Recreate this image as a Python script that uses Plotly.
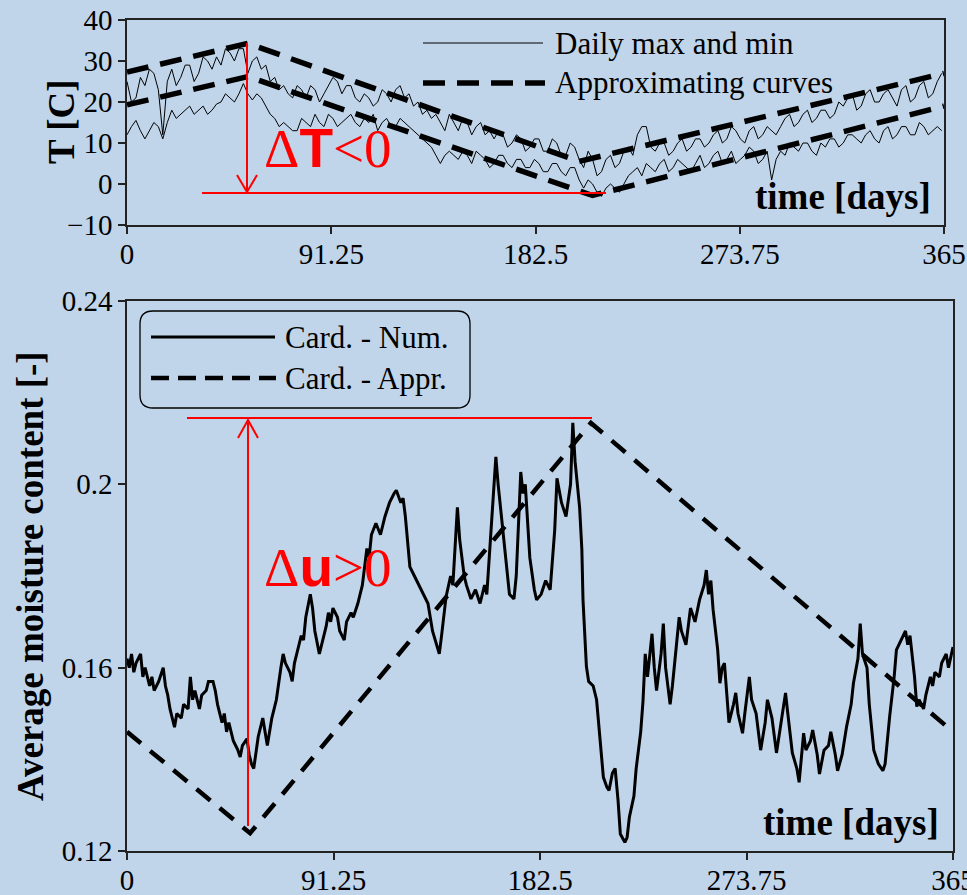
import plotly.graph_objects as go

W, H = 967, 895
BG = "rgb(192,213,234)"
SERIF = "Liberation Serif, Times New Roman, serif"
AX = "#222222"

# ---------------- data ----------------
tick_vals = [0, 91.25, 182.5, 273.75, 365]
tick_text = ["0", "91.25", "182.5", "273.75", "365"]

t_days = list(range(0, 365, 2))
t_max = [25, 20, 21, 26, 24, 28, 27, 23, 12, 25, 28, 24, 26, 29, 29, 25, 27, 31, 30, 28,
         31, 29, 33, 32, 30, 33, 33, 27, 30, 31, 28, 29, 25, 26, 23, 24, 22, 21, 24, 23,
         21, 24, 23, 20, 22, 24, 26, 25, 22, 24, 24, 21, 20, 22, 21, 19, 20, 23, 22, 20,
         23, 24, 21, 22, 19, 20, 17, 18, 16, 17, 15, 13, 17, 15, 13, 16, 15, 12, 14, 15,
         12, 13, 11, 13, 12, 9, 10, 12, 11, 8, 9, 11, 11, 8, 8, 11, 10, 7, 7, 10,
         9, 6, 4, 8, 6, 2, 3, 6, 7, 4, 5, 8, 9, 7, 12, 14, 14, 9, 8, 10,
         10, 7, 8, 10, 11, 8, 9, 11, 11, 9, 10, 12, 13, 10, 11, 14, 13, 11, 10, 13,
         14, 11, 12, 14, 13, 12, 14, 16, 17, 14, 15, 17, 18, 15, 16, 18, 18, 16, 17, 20,
         19, 21, 22, 18, 19, 22, 23, 20, 20, 22, 23, 21, 19, 23, 24, 20, 21, 24, 25, 21,
         22, 25, 27]
t_min = [12, 14, 15.5, 13, 11, 13, 15, 14, 11, 15, 18, 16, 17, 18, 19, 17, 18, 19, 17, 18,
         19.5, 20, 22, 21, 20, 22, 24.5, 22, 20.5, 22, 21, 19, 17, 16, 14, 15, 14, 13, 13, 16,
         15, 14, 17, 15, 14, 17, 16, 14, 15, 16, 17, 15, 14, 16, 15, 17, 13, 15, 16, 14,
         14, 16, 15, 14, 13, 12, 11, 10, 9, 7, 5, 7, 8, 7, 6, 8, 7, 5, 8, 7,
         6, 4, 5, 7, 7, 5, 4, 6, 6, 4, 4, 6, 5, 3, 3, 5, 5, 3, 2, 4,
         4, 1, -1, 1, 0, -2, -3, -1, 0, -1, -2, 0, 2, 3, 4, 2, 5, 4, 3, 5,
         6, 3, 4, 6, 5, 4, 3, 5, 7, 4, 5, 7, 8, 5, 6, 8, 5, 6, 7, 9,
         8, 5, 6, 8, 1, 6, 8, 7, 10, 9, 8, 10, 10, 8, 7, 10, 9, 11, 11, 9,
         10, 12, 12, 11, 10, 12, 13, 11, 10, 13, 14, 11, 12, 14, 14, 12, 12, 15, 14, 12,
         13, 14, 13]

appr_up_days = [0, 54, 202, 365]
appr_up_vals = [27.3, 34.3, 5.5, 27.0]
appr_lo_days = [0, 54, 208, 365]
appr_lo_vals = [19.3, 26.2, -2.8, 19.0]

num_days = [0, 1, 2, 3, 4, 6, 7, 8, 10, 11, 12, 14, 16, 17, 18, 19, 21, 22, 24, 25,
            27, 28, 29, 30, 32, 33, 35, 36, 38, 39, 40, 42, 43, 44, 45, 47, 49, 50, 51, 53,
            54, 55, 56, 57, 58, 60, 61, 62, 64, 66, 68, 69, 70, 72, 73, 74, 76, 77, 78, 79,
            81, 82, 83, 85, 86, 88, 89, 90, 91, 93, 94, 96, 97, 99, 100, 102, 104, 106, 107, 108,
            110, 112, 114, 116, 118, 119, 121, 122, 123, 125, 127, 129, 131, 133, 135, 137, 138, 139, 141, 143,
            144, 146, 147, 149, 150, 152, 154, 156, 158, 159, 161, 163, 164, 165, 167, 169, 171, 172, 174, 175,
            176, 178, 180, 181, 183, 185, 187, 189, 190, 192, 194, 196, 197, 198, 200, 201, 201.5, 203, 204, 206,
            207.5, 209, 210.5, 212, 213, 214.5, 215.7, 217, 218, 220, 221, 222, 224, 225, 227, 228, 229, 230, 232, 233,
            234, 236, 237, 238, 240, 241, 243, 244, 245, 247, 248, 249, 251, 253, 255, 256, 257, 258, 259, 261,
            262, 263, 264, 265, 266, 268, 269, 270, 272, 273, 275, 276, 278, 280, 282, 283, 285, 287, 289, 291,
            292, 294, 296, 297, 299, 300, 302, 303, 305, 306, 308, 310, 311, 313, 314, 316, 318, 320, 321, 323,
            324, 325, 327, 328, 330, 332, 334, 335, 337, 339, 340, 342, 344, 345, 346, 348, 349, 350, 352, 353,
            355, 356, 357, 359, 360, 362, 363, 365]
num_vals = [0.162, 0.160, 0.163, 0.159, 0.161, 0.163, 0.158, 0.160, 0.156, 0.158, 0.155, 0.157, 0.160, 0.156, 0.154, 0.151, 0.147, 0.150, 0.149, 0.152,
            0.151, 0.158, 0.153, 0.155, 0.151, 0.154, 0.155, 0.157, 0.157, 0.155, 0.152, 0.148, 0.150, 0.146, 0.148, 0.144, 0.142, 0.1405, 0.143, 0.1445,
            0.141, 0.139, 0.138, 0.141, 0.145, 0.149, 0.146, 0.143, 0.149, 0.153, 0.160, 0.163, 0.161, 0.159, 0.157, 0.161, 0.165, 0.167, 0.166, 0.171,
            0.176, 0.173, 0.168, 0.163, 0.165, 0.169, 0.172, 0.170, 0.173, 0.171, 0.168, 0.166, 0.170, 0.172, 0.171, 0.174, 0.178, 0.186, 0.184, 0.189,
            0.1915, 0.189, 0.193, 0.196, 0.198, 0.1987, 0.196, 0.197, 0.193, 0.182, 0.180, 0.178, 0.176, 0.174, 0.168, 0.165, 0.163, 0.167, 0.1755, 0.180,
            0.178, 0.195, 0.188, 0.180, 0.178, 0.175, 0.177, 0.174, 0.178, 0.176, 0.190, 0.206, 0.200, 0.195, 0.186, 0.176, 0.175, 0.180, 0.2027, 0.198,
            0.200, 0.184, 0.177, 0.1748, 0.176, 0.179, 0.177, 0.190, 0.2013, 0.196, 0.193, 0.200, 0.2134, 0.205, 0.195, 0.1857, 0.1748, 0.1603, 0.157, 0.156,
            0.153, 0.145, 0.1361, 0.134, 0.1332, 0.137, 0.138, 0.131, 0.1237, 0.1219, 0.123, 0.1274, 0.132, 0.138, 0.146, 0.1526, 0.163, 0.158, 0.1674, 0.160,
            0.155, 0.163, 0.1696, 0.160, 0.152, 0.156, 0.165, 0.171, 0.168, 0.165, 0.169, 0.173, 0.170, 0.1748, 0.178, 0.1813, 0.176, 0.179, 0.1726, 0.164,
            0.1566, 0.160, 0.161, 0.154, 0.148, 0.152, 0.1545, 0.150, 0.1457, 0.150, 0.158, 0.153, 0.150, 0.142, 0.148, 0.153, 0.149, 0.1414, 0.148, 0.1545,
            0.150, 0.1414, 0.138, 0.135, 0.1457, 0.142, 0.144, 0.1464, 0.141, 0.1368, 0.142, 0.143, 0.146, 0.141, 0.1375, 0.141, 0.1472, 0.152, 0.1566, 0.162,
            0.1696, 0.163, 0.160, 0.152, 0.142, 0.139, 0.1375, 0.139, 0.1493, 0.158, 0.1639, 0.166, 0.168, 0.165, 0.167, 0.158, 0.1515, 0.153, 0.151, 0.154,
            0.158, 0.156, 0.159, 0.158, 0.161, 0.163, 0.160, 0.1645]

appr_u_days = [0, 54.4, 205, 365]
appr_u_vals = [0.146, 0.1239, 0.2134, 0.146]


# ---------------- helpers (pixel -> paper) ----------------
def px(x):
    return x / W


def py(y):
    return 1 - y / H


fig = go.Figure()

fig.add_trace(go.Scatter(x=t_days, y=t_max, mode="lines", line=dict(color="black", width=1),
                         name="Daily max", xaxis="x", yaxis="y"))
fig.add_trace(go.Scatter(x=t_days, y=t_min, mode="lines", line=dict(color="black", width=1),
                         name="Daily min", xaxis="x", yaxis="y"))
fig.add_trace(go.Scatter(x=appr_up_days, y=appr_up_vals, mode="lines",
                         line=dict(color="black", width=5.5, dash="22px,12px"),
                         name="Approx upper", xaxis="x", yaxis="y"))
fig.add_trace(go.Scatter(x=appr_lo_days, y=appr_lo_vals, mode="lines",
                         line=dict(color="black", width=5.5, dash="22px,12px"),
                         name="Approx lower", xaxis="x", yaxis="y"))

fig.add_trace(go.Scatter(x=num_days, y=num_vals, mode="lines", line=dict(color="black", width=3),
                         name="Card. - Num.", xaxis="x2", yaxis="y2"))
fig.add_trace(go.Scatter(x=appr_u_days, y=appr_u_vals, mode="lines",
                         line=dict(color="black", width=4.5, dash="18px,12px"),
                         name="Card. - Appr.", xaxis="x2", yaxis="y2"))

axis_common = dict(showline=True, linecolor=AX, linewidth=1.5, mirror=True, showgrid=False,
                   zeroline=False, ticks="outside", ticklen=7, tickwidth=1.5, tickcolor=AX,
                   automargin=False, ticklabeloverflow="allow",
                   tickfont=dict(family=SERIF, size=29, color="black"))

fig.update_layout(
    width=W, height=H, autosize=False,
    margin=dict(l=0, r=0, t=0, b=0, pad=0),
    paper_bgcolor=BG, plot_bgcolor=BG,
    showlegend=False,
    xaxis=dict(domain=[px(127), px(944)], range=[0, 365], tickvals=tick_vals, ticktext=tick_text,
               anchor="y", ticklabelstandoff=-5, **axis_common),
    yaxis=dict(domain=[py(225), py(20)], range=[-10, 40], tick0=0, dtick=10, anchor="x", **axis_common),
    xaxis2=dict(domain=[px(127), px(953)], range=[0, 365], tickvals=tick_vals, ticktext=tick_text,
                anchor="y2", ticklabelstandoff=-5, **axis_common),
    yaxis2=dict(domain=[py(851), py(301)], range=[0.12, 0.24], tick0=0.12, dtick=0.04, anchor="x2",
                **axis_common),
)

shapes = []
annotations = []

RED = "#ff0000"


def line(x0, y0, x1, y1, color="black", width=1.0, dash=None):
    d = dict(type="line", xref="paper", yref="paper", x0=px(x0), y0=py(y0), x1=px(x1), y1=py(y1),
             line=dict(color=color, width=width))
    if dash:
        d["line"]["dash"] = dash
    shapes.append(d)


def text(x, y, s, size, xanchor="left", yanchor="middle", angle=0, color="black", family=SERIF):
    annotations.append(dict(xref="paper", yref="paper", x=px(x), y=py(y), text=s, showarrow=False,
                            xanchor=xanchor, yanchor=yanchor, textangle=angle,
                            font=dict(family=family, size=size, color=color)))


# top legend
line(423, 43, 543, 43, width=1)
line(423, 83, 545, 83, width=5.5, dash="22px,12px")
text(553, 43, "Daily max and min", 31)
text(553, 83, "Approximating curves", 31)

# bottom legend box (rounded)
x0, y0, x1, y1, r = 140, 311, 470, 408, 13
path = (f"M {px(x0 + r)},{py(y0)} L {px(x1 - r)},{py(y0)} Q {px(x1)},{py(y0)} {px(x1)},{py(y0 + r)} "
        f"L {px(x1)},{py(y1 - r)} Q {px(x1)},{py(y1)} {px(x1 - r)},{py(y1)} "
        f"L {px(x0 + r)},{py(y1)} Q {px(x0)},{py(y1)} {px(x0)},{py(y1 - r)} "
        f"L {px(x0)},{py(y0 + r)} Q {px(x0)},{py(y0)} {px(x0 + r)},{py(y0)} Z")
shapes.append(dict(type="path", xref="paper", yref="paper", path=path,
                   line=dict(color="black", width=1.3)))
line(151, 337, 275, 337, width=3)
line(151, 378, 276, 378, width=4.5, dash="18px,9px")
text(283, 337, "Card. - Num.", 31)
text(283, 378, "Card. - Appr.", 31)

# axis titles
text(62, 122, "<b>T [C]</b>", 37, xanchor="center", angle=-90)
text(30, 576, "<b>Average moisture content [-]</b>", 37, xanchor="center", angle=-90)
text(933, 196, "<b>time [days]</b>", 37, xanchor="right")
text(941, 822, "<b>time [days]</b>", 37, xanchor="right")

# red annotations: top
line(247, 43, 247, 193, color=RED, width=2)
line(202, 193, 606, 193, color=RED, width=2)
line(247, 192, 237, 175, color=RED, width=2)
line(247, 192, 257, 175, color=RED, width=2)
dT = ("<span style='font-family:Liberation Serif'>Δ</span>"
      "<span style='font-family:Liberation Sans;font-weight:bold'>T</span>"
      "<span style='font-family:Liberation Serif'>&lt;0</span>")
text(262, 148, dT, 55, color=RED)

# red annotations: bottom
line(248, 826, 248, 419, color=RED, width=2)
line(187, 418, 592, 418, color=RED, width=2)
line(248, 420, 238, 438, color=RED, width=2)
line(248, 420, 258, 438, color=RED, width=2)
du = ("<span style='font-family:Liberation Serif'>Δ</span>"
      "<span style='font-family:Liberation Sans;font-weight:bold'>u</span>"
      "<span style='font-family:Liberation Serif'>&gt;0</span>")
text(262, 567, du, 55, color=RED)

fig.update_layout(shapes=shapes, annotations=annotations)

fig.write_html("out.html", config={"displayModeBar": False},
               post_script="document.body.style.margin='0';document.body.style.padding='0';"
                           "document.body.style.background='rgb(192,213,234)';")
